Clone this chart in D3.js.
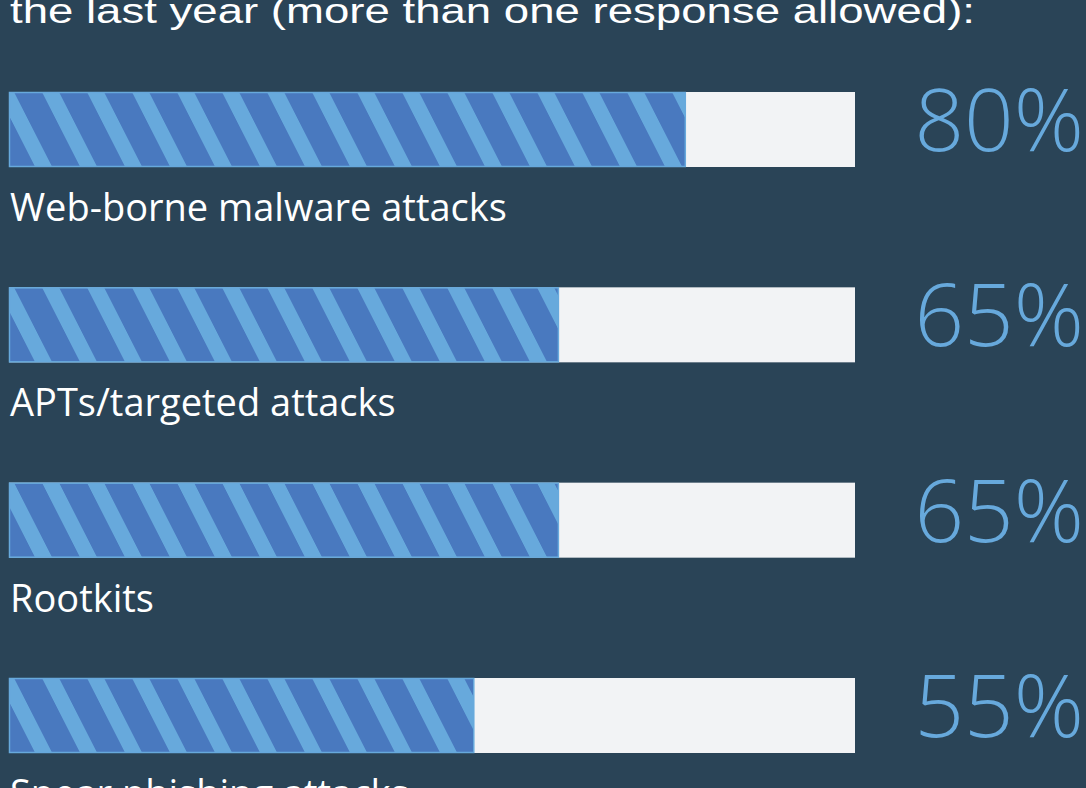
<!DOCTYPE html>
<html>
<head>
<meta charset="utf-8">
<script src="https://cdn.jsdelivr.net/npm/d3@7"></script>
<style>
  html, body { margin: 0; padding: 0; background: #2a4457; }
  svg { display: block; }
</style>
</head>
<body>
<svg id="chart" width="1086" height="788"></svg>
<script>
const title = "the last year (more than one response allowed):";
const categories = ["Web-borne malware attacks", "APTs/targeted attacks", "Rootkits", "Spear phishing attacks"];
const values = [80, 65, 65, 55];
const valueLabels = ["80%", "65%", "65%", "55%"];

const W = 1086, H = 788;
const svg = d3.select("#chart");

const colors = {
  bg: "#2a4457",
  track: "#f2f3f5",
  dark: "#4979bf",
  light: "#67a9dc",
  text: "#ffffff",
  pct: "#67a9dc"
};

svg.append("rect").attr("width", W).attr("height", H).attr("fill", colors.bg);

// stripe pattern
const defs = svg.append("defs");
const pat = defs.append("pattern")
  .attr("id", "stripes")
  .attr("patternUnits", "userSpaceOnUse")
  .attr("width", 45).attr("height", 20)
  .attr("patternTransform", "translate(42,0) skewX(27)");
pat.append("rect").attr("width", 45).attr("height", 20).attr("fill", colors.dark);
pat.append("rect").attr("x", 0).attr("width", 17).attr("height", 20).attr("fill", colors.light);

const x = d3.scaleLinear().domain([0, 100]).range([9, 855]);
const y = d3.scalePoint().domain(categories).range([92, 678]);
const barH = 75;

// title
svg.append("text")
  .attr("x", 10).attr("y", 23)
  .attr("fill", colors.text)
  .attr("textLength", 965)
  .attr("lengthAdjust", "spacingAndGlyphs")
  .style("font-family", "'Liberation Sans', Arial, sans-serif")
  .style("font-size", "35px")
  .text(title);

const rows = svg.selectAll("g.row")
  .data(categories.map((c, i) => ({ c, v: values[i], l: valueLabels[i] })))
  .join("g")
  .attr("class", "row")
  .attr("transform", d => `translate(0,${y(d.c)})`);

rows.append("rect")
  .attr("x", x(0)).attr("y", 0)
  .attr("width", x(100) - x(0)).attr("height", barH)
  .attr("fill", colors.track);

rows.append("rect")
  .attr("x", x(0) + 0.5).attr("y", 0.5)
  .attr("width", d => x(d.v) - x(0) - 1).attr("height", barH - 1)
  .attr("fill", "url(#stripes)")
  .attr("stroke", colors.light)
  .attr("stroke-width", 1.5);

rows.append("text")
  .attr("x", 10).attr("y", 129)
  .attr("fill", colors.text)
  .style("font-family", "'Open Sans', 'Noto Sans', sans-serif")
  .style("font-size", "38px")
  .text(d => d.c);

rows.append("text")
  .attr("x", 1084).attr("y", 59)
  .attr("text-anchor", "end")
  .attr("fill", colors.pct)
  .style("font-family", "'Open Sans', 'Noto Sans', sans-serif")
  .style("font-weight", 350)
  .style("font-size", "87px")
  .text(d => d.l);
</script>
</body>
</html>
